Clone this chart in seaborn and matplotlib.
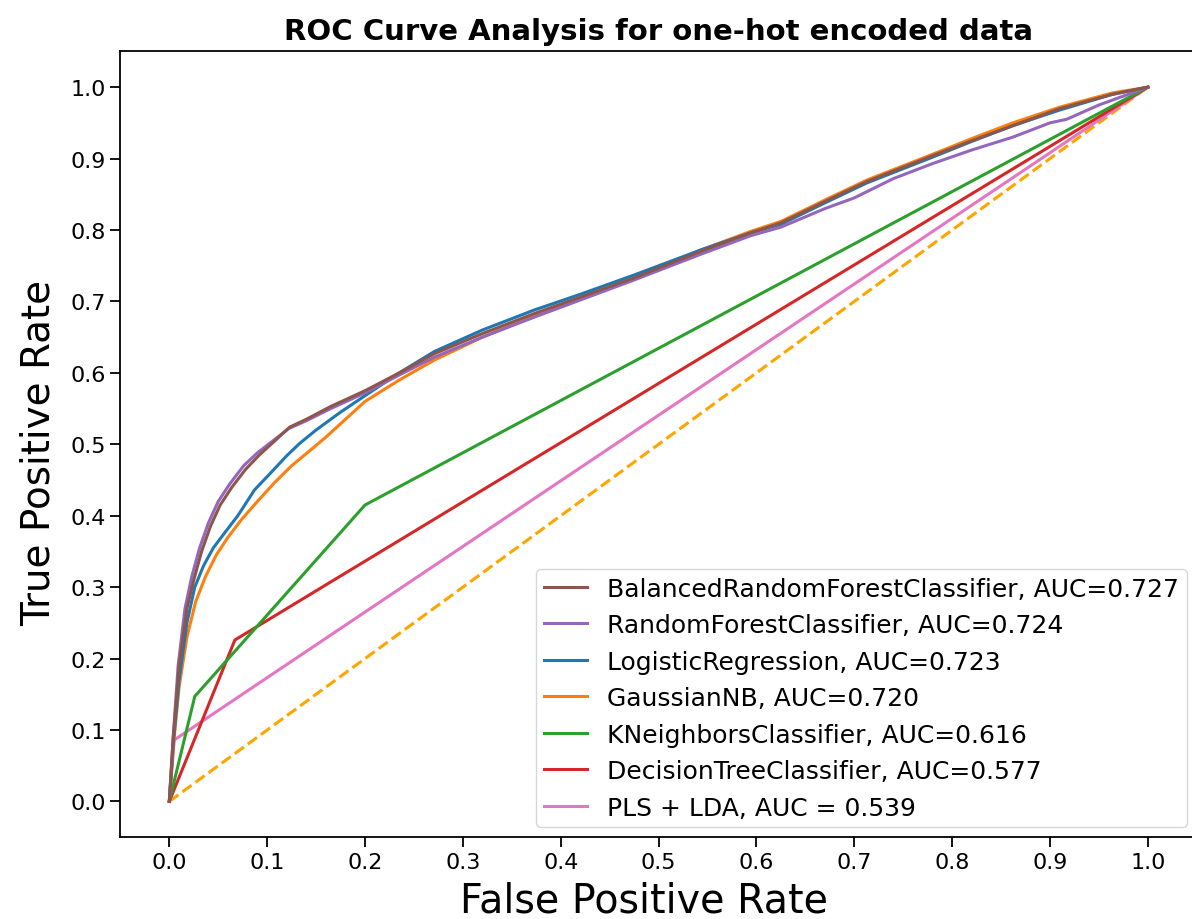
import matplotlib
matplotlib.use("Agg")
import matplotlib.pyplot as plt
import seaborn as sns

# ROC points
brf_fpr = [0, 0.004, 0.010, 0.018, 0.025, 0.033, 0.042, 0.052, 0.064, 0.078, 0.092, 0.108, 0.123, 0.140, 0.165, 0.200,
           0.235, 0.271, 0.320, 0.373, 0.420, 0.475, 0.543, 0.594, 0.625, 0.670, 0.713, 0.780, 0.820, 0.862, 0.910, 0.964, 1.0]
brf_tpr = [0, 0.09, 0.19, 0.27, 0.31, 0.35, 0.385, 0.415, 0.44, 0.465, 0.485, 0.505, 0.524, 0.535, 0.553, 0.575,
           0.60, 0.627, 0.655, 0.683, 0.706, 0.733, 0.770, 0.796, 0.810, 0.840, 0.868, 0.904, 0.925, 0.946, 0.970, 0.990, 1.0]

rf_fpr = [0, 0.004, 0.009, 0.016, 0.023, 0.031, 0.040, 0.050, 0.062, 0.076, 0.090, 0.106, 0.122, 0.140, 0.165, 0.200,
          0.235, 0.271, 0.320, 0.373, 0.420, 0.475, 0.543, 0.594, 0.625, 0.670, 0.700, 0.740, 0.780, 0.820, 0.862,
          0.900, 0.917, 0.950, 1.0]
rf_tpr = [0, 0.09, 0.19, 0.27, 0.315, 0.355, 0.39, 0.42, 0.445, 0.47, 0.488, 0.505, 0.522, 0.533, 0.550, 0.572,
          0.597, 0.622, 0.650, 0.678, 0.702, 0.730, 0.766, 0.792, 0.804, 0.830, 0.845, 0.872, 0.893, 0.912, 0.930,
          0.950, 0.955, 0.975, 1.0]

lr_fpr = [0, 0.004, 0.010, 0.018, 0.026, 0.035, 0.045, 0.056, 0.070, 0.087, 0.105, 0.120, 0.133, 0.150, 0.175, 0.200,
          0.235, 0.271, 0.320, 0.373, 0.420, 0.475, 0.543, 0.594, 0.625, 0.670, 0.713, 0.780, 0.820, 0.862, 0.910, 0.964, 1.0]
lr_tpr = [0, 0.08, 0.17, 0.25, 0.30, 0.33, 0.355, 0.375, 0.40, 0.436, 0.462, 0.484, 0.501, 0.520, 0.545, 0.568,
          0.600, 0.630, 0.660, 0.688, 0.710, 0.737, 0.772, 0.796, 0.808, 0.838, 0.866, 0.902, 0.924, 0.946, 0.968, 0.990, 1.0]

gnb_fpr = [0, 0.004, 0.010, 0.018, 0.027, 0.037, 0.048, 0.060, 0.074, 0.090, 0.108, 0.125, 0.140, 0.160, 0.180, 0.200,
           0.235, 0.271, 0.320, 0.373, 0.420, 0.475, 0.543, 0.594, 0.625, 0.670, 0.713, 0.780, 0.820, 0.862, 0.910, 0.964, 1.0]
gnb_tpr = [0, 0.075, 0.16, 0.23, 0.28, 0.315, 0.345, 0.37, 0.395, 0.42, 0.447, 0.47, 0.487, 0.51, 0.535, 0.560,
           0.590, 0.618, 0.650, 0.680, 0.705, 0.732, 0.772, 0.798, 0.812, 0.842, 0.870, 0.906, 0.928, 0.950, 0.972, 0.992, 1.0]

knn_fpr = [0, 0.026, 0.200, 1.0]
knn_tpr = [0, 0.147, 0.415, 1.0]

dt_fpr = [0, 0.067, 1.0]
dt_tpr = [0, 0.226, 1.0]

pls_fpr = [0, 0.005, 1.0]
pls_tpr = [0, 0.086, 1.0]

labels = [
    "BalancedRandomForestClassifier, AUC=0.727",
    "RandomForestClassifier, AUC=0.724",
    "LogisticRegression, AUC=0.723",
    "GaussianNB, AUC=0.720",
    "KNeighborsClassifier, AUC=0.616",
    "DecisionTreeClassifier, AUC=0.577",
    "PLS + LDA, AUC = 0.539",
]
curves = [(brf_fpr, brf_tpr), (rf_fpr, rf_tpr), (lr_fpr, lr_tpr), (gnb_fpr, gnb_tpr),
          (knn_fpr, knn_tpr), (dt_fpr, dt_tpr), (pls_fpr, pls_tpr)]
colors = ["tab:brown", "tab:purple", "tab:blue", "tab:orange", "tab:green", "tab:red", "tab:pink"]

fig, ax = plt.subplots(figsize=(11.92, 9.2), dpi=100)
# right edge of the axes sits just past the image, as in the reference crop
fig.subplots_adjust(left=0.101, right=1.004, bottom=0.089, top=0.943)

n = len(curves)
for i, ((fpr, tpr), lab, col) in enumerate(zip(curves, labels, colors)):
    sns.lineplot(x=fpr, y=tpr, sort=False, estimator=None, color=col, label=lab,
                 linewidth=2.2, ax=ax, zorder=n - i + 2)

sns.lineplot(x=[0, 1], y=[0, 1], color="orange", linestyle="--", linewidth=2.2, ax=ax, zorder=1)

ax.set_xticks([i / 10 for i in range(11)])
ax.set_yticks([i / 10 for i in range(11)])
ax.set_xlim(-0.05, 1.05)
ax.set_ylim(-0.05, 1.05)
ax.tick_params(labelsize=16, length=7, width=1.3)
for s in ax.spines.values():
    s.set_linewidth(1.3)

ax.set_xlabel("False Positive Rate", fontsize=28.5)
ax.set_ylabel("True Positive Rate", fontsize=28)
ax.xaxis.set_label_coords(0.486, -0.055)
ax.yaxis.set_label_coords(-0.058, 0.49)
ax.set_title("ROC Curve Analysis for one-hot encoded data", fontweight="bold", fontsize=21, pad=9)
ax.legend(loc="lower right", fontsize=18, handlelength=1.75, borderaxespad=0.4, borderpad=0.3)

plt.savefig("out.png")
plt.close()
